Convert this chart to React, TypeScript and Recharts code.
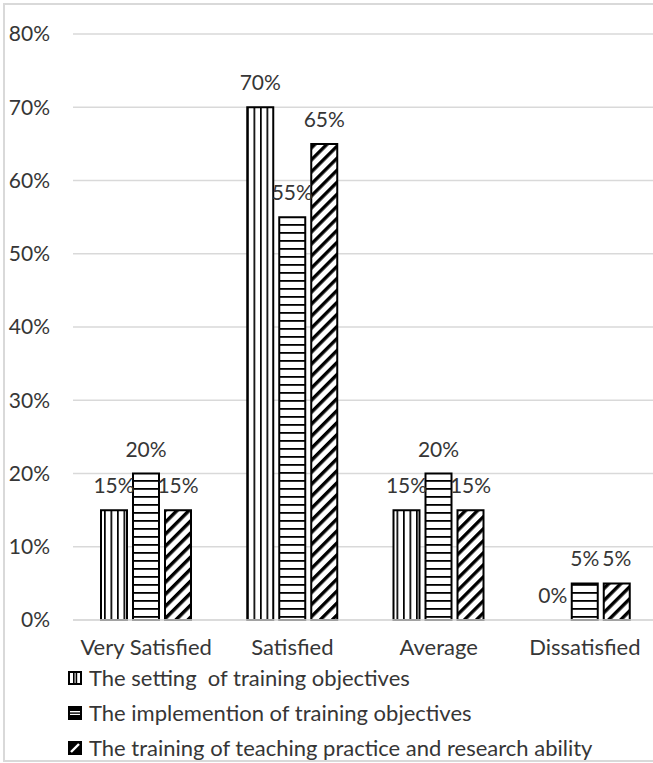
import React from 'react';
import { BarChart, Bar, XAxis, YAxis, CartesianGrid, LabelList, Legend, Rectangle } from 'recharts';

const categories = ['Very Satisfied', 'Satisfied', 'Average', 'Dissatisfied'];
const settingValues = [0.15, 0.7, 0.15, 0.0];
const implementionValues = [0.2, 0.55, 0.2, 0.05];
const practiceValues = [0.15, 0.65, 0.15, 0.05];
const seriesNames = [
  'The setting  of training objectives',
  'The implemention of training objectives',
  'The training of teaching practice and research ability',
];
const yTicks = [0, 0.1, 0.2, 0.3, 0.4, 0.5, 0.6, 0.7, 0.8];

const data = categories.map((c, i) => ({
  name: c,
  setting: settingValues[i],
  implemention: implementionValues[i],
  practice: practiceValues[i],
}));

const FONT = 'Lato, "Noto Sans", sans-serif';
const TEXT = '#363636';
const pct = (v: number) => `${Math.round(v * 100)}%`;
const NUM_SIZE = 21;
const WORD_SIZE = 22;

const LegendIcon = ({ idx }: { idx: number }) => {
  if (idx === 0) {
    return (
      <svg width={14} height={14} style={{ display: 'block' }}>
        <rect x={1} y={1} width={12} height={12} fill="#fff" stroke="#000" strokeWidth={2} />
        <rect x={5} y={1} width={1.6} height={12} fill="#000" />
        <rect x={7.6} y={1} width={1.6} height={12} fill="#000" />
      </svg>
    );
  }
  if (idx === 1) {
    return (
      <svg width={14} height={14} style={{ display: 'block' }}>
        <rect x={1} y={1} width={12} height={12} fill="#fff" stroke="#000" strokeWidth={2} />
        <rect x={1} y={1} width={12} height={4} fill="#000" />
        <rect x={1} y={9} width={12} height={4} fill="#000" />
        <rect x={1} y={6.4} width={12} height={1.4} fill="#000" />
      </svg>
    );
  }
  return (
    <svg width={14} height={14} style={{ display: 'block' }}>
      <rect x={1} y={1} width={12} height={12} fill="#000" stroke="#000" strokeWidth={2} />
      <path d="M3 11 L11 3" stroke="#fff" strokeWidth={2.4} />
    </svg>
  );
};

const renderLegend = (props: any) => {
  const payload = [...(props.payload || [])].sort(
    (a: any, b: any) => seriesNames.indexOf(a.value) - seriesNames.indexOf(b.value)
  );
  return (
    <div style={{ fontFamily: FONT, fontSize: WORD_SIZE, color: TEXT }}>
      {payload.map((p: any, i: number) => (
        <div key={i} style={{ display: 'flex', alignItems: 'center', height: 35 }}>
          <LegendIcon idx={seriesNames.indexOf(p.value)} />
          <span style={{ marginLeft: 7, whiteSpace: 'pre' }}>{p.value}</span>
        </div>
      ))}
    </div>
  );
};

const renderBarLabel = (props: any) => {
  const vb = props.viewBox || props;
  const x = Number(vb.x ?? props.x);
  const y = Number(vb.y ?? props.y);
  const w = Number(vb.width ?? props.width);
  return (
    <text
      x={x + w / 2}
      y={y - 17}
      textAnchor="middle"
      fontFamily={FONT}
      fontSize={NUM_SIZE}
      fill={TEXT}
    >
      {pct(Number(props.value))}
    </text>
  );
};

// Draws the bar, but nothing for a zero-height bar (its label is still shown)
const barShape = (props: any) =>
  Math.abs(Number(props.height)) < 0.5 ? <g /> : <Rectangle {...props} />;

export default function App() {
  return (
    <div
      style={{
        position: 'absolute',
        left: 0,
        top: 0,
        width: 653,
        height: 763,
        overflow: 'hidden',
        background: '#fff',
      }}
    >
      <div
        style={{
          position: 'absolute',
          left: 3,
          top: 3,
          width: 720,
          height: 755,
          border: '2px solid #d9d9d9',
        }}
      />
      <div style={{ position: 'absolute', left: 0, top: 0 }}>
        <BarChart
          width={700}
          height={763}
          data={data}
          margin={{ top: 34, right: 42, bottom: 113, left: 0 }}
          barSize={26}
          barGap={6}
        >
          <defs>
            <pattern id="pVert" patternUnits="userSpaceOnUse" width={6.5} height={10}>
              <rect width={6.5} height={10} fill="#fff" />
              <rect x={0} y={0} width={1.7} height={10} fill="#000" />
            </pattern>
            <pattern id="pHorz" patternUnits="userSpaceOnUse" width={10} height={8}>
              <rect width={10} height={8} fill="#fff" />
              <rect x={0} y={0} width={10} height={1.8} fill="#000" />
            </pattern>
            <pattern
              id="pDiag"
              patternUnits="userSpaceOnUse"
              width={8.5}
              height={10}
              patternTransform="rotate(45)"
            >
              <rect width={8.5} height={10} fill="#fff" />
              <rect x={0} y={0} width={3.4} height={10} fill="#000" />
            </pattern>
          </defs>
          <CartesianGrid vertical={false} stroke="#d9d9d9" strokeWidth={1.5} />
          <XAxis
            dataKey="name"
            tickLine={false}
            tickSize={0}
            tickMargin={19}
            height={30}
            axisLine={{ stroke: '#d9d9d9', strokeWidth: 1.5 }}
            tick={{ fontFamily: FONT, fontSize: WORD_SIZE, fill: TEXT }}
          />
          <YAxis
            width={73}
            domain={[0, 0.8]}
            ticks={yTicks}
            tickFormatter={pct}
            tickLine={false}
            axisLine={false}
            tickSize={0}
            tickMargin={23}
            tick={{ fontFamily: FONT, fontSize: NUM_SIZE, fill: TEXT }}
          />
          <Legend
            layout="vertical"
            align="center"
            verticalAlign="middle"
            content={renderLegend}
            wrapperStyle={{ left: 68, top: 660, width: 600, right: 'auto', bottom: 'auto' }}
          />
          <Bar
            dataKey="setting"
            name={seriesNames[0]}
            fill="url(#pVert)"
            stroke="#000"
            strokeWidth={2}
            minPointSize={0.01}
            shape={barShape}
            isAnimationActive={false}
          >
            <LabelList dataKey="setting" content={renderBarLabel} />
          </Bar>
          <Bar
            dataKey="implemention"
            name={seriesNames[1]}
            fill="url(#pHorz)"
            stroke="#000"
            strokeWidth={2}
            isAnimationActive={false}
          >
            <LabelList dataKey="implemention" content={renderBarLabel} />
          </Bar>
          <Bar
            dataKey="practice"
            name={seriesNames[2]}
            fill="url(#pDiag)"
            stroke="#000"
            strokeWidth={2}
            isAnimationActive={false}
          >
            <LabelList dataKey="practice" content={renderBarLabel} />
          </Bar>
        </BarChart>
      </div>
    </div>
  );
}
